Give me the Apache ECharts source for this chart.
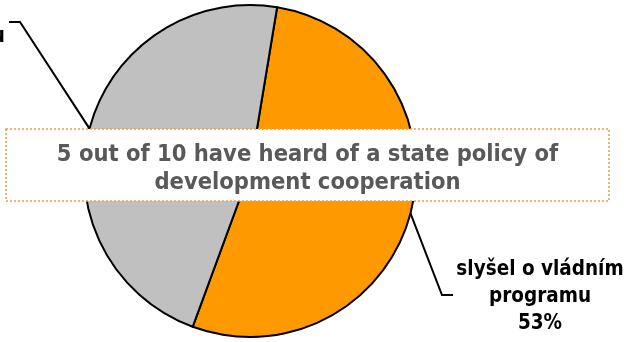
<!DOCTYPE html>
<html lang="cs" style="height: 100%">

<head>
  <meta charset="utf-8">
</head>

<body style="height: 100%; margin: 0">
  <div id="container" style="height: 100%"></div>

  <script type="text/javascript" src="https://cdn.jsdelivr.net/npm/echarts@6/dist/echarts.min.js"></script>
  <script type="text/javascript">
    // data
    var categories = ['slyšel o vládním\nprogramu', 'neslyšel o vládním programu'];
    var values = [53, 47];
    var colors = ['#FF9900', '#C0C0C0'];
    var headline = '5 out of 10 have heard of a state policy of\ndevelopment cooperation';

    var FONT = 'Tahoma, "DejaVu Sans Condensed", "DejaVu Sans", sans-serif';

    var dom = document.getElementById('container');
    var myChart = echarts.init(dom, null, { renderer: 'canvas' });

    var option = {
      animation: false,
      backgroundColor: '#fff',
      series: [
        {
          type: 'pie',
          center: [250, 171],
          radius: 166,
          startAngle: 80.6,
          clockwise: true,
          percentPrecision: 0,
          data: categories.map(function (c, i) {
            return { name: c, value: values[i], itemStyle: { color: colors[i] } };
          }),
          itemStyle: { borderColor: '#000', borderWidth: 2 },
          emphasis: { disabled: true },
          label: {
            show: true,
            formatter: '{b}\n{d}%',
            color: '#000',
            fontFamily: FONT,
            fontWeight: 'bold',
            fontSize: 20.5,
            lineHeight: 27,
            align: 'center',
            overflow: 'none'
          },
          labelLine: {
            show: true,
            length: 20,
            length2: 10,
            lineStyle: { color: '#000', width: 2 }
          },
          labelLayout: function (params) {
            var p0 = params.labelLinePoints[0];
            if (params.dataIndex === 0) {
              return {
                x: 540, y: 297, align: 'center', verticalAlign: 'middle',
                labelLinePoints: [p0, [442, 295], [453, 295]]
              };
            }
            // only the tail of the first line shows at the left edge
            return {
              x: 5 - params.labelRect.width / 2, y: 23, align: 'center', verticalAlign: 'top',
              labelLinePoints: [p0, [20, 22], [9, 22]]
            };
          }
        }
      ],
      graphic: [
        {
          type: 'rect',
          z: 100,
          shape: { x: 6, y: 129, width: 603, height: 72 },
          style: { fill: '#fff', stroke: '#F79646', lineWidth: 1.5, lineDash: [2, 2] }
        },
        {
          type: 'text',
          z: 101,
          x: 307.5,
          y: 169,
          style: {
            text: headline,
            fill: '#595959',
            font: 'bold 23.5px ' + FONT,
            lineHeight: 28,
            align: 'center',
            verticalAlign: 'middle'
          }
        }
      ]
    };

    myChart.setOption(option);
    window.addEventListener('resize', myChart.resize);
  </script>
</body>

</html>
